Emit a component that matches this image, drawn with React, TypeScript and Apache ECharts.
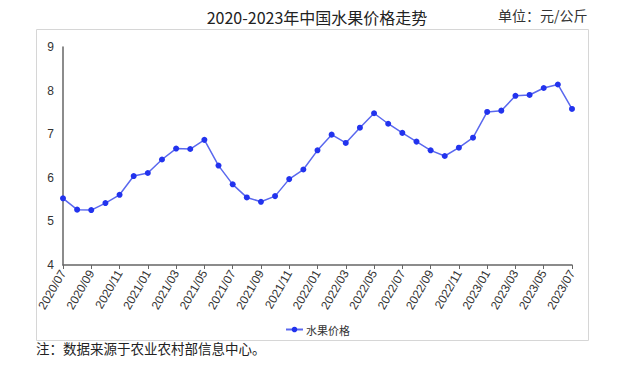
import React, { useEffect, useRef } from "react";
import * as echarts from "echarts";

const months: string[] = [
  "2020/07","2020/08","2020/09","2020/10","2020/11","2020/12",
  "2021/01","2021/02","2021/03","2021/04","2021/05","2021/06",
  "2021/07","2021/08","2021/09","2021/10","2021/11","2021/12",
  "2022/01","2022/02","2022/03","2022/04","2022/05","2022/06",
  "2022/07","2022/08","2022/09","2022/10","2022/11","2022/12",
  "2023/01","2023/02","2023/03","2023/04","2023/05","2023/06","2023/07",
];
const fruitPrice: number[] = [
  5.53, 5.27, 5.26, 5.42, 5.61, 6.04,
  6.11, 6.42, 6.67, 6.66, 6.87, 6.28,
  5.85, 5.55, 5.45, 5.58, 5.97, 6.19,
  6.63, 6.99, 6.80, 7.15, 7.48, 7.24,
  7.03, 6.83, 6.63, 6.50, 6.69, 6.92,
  7.51, 7.54, 7.88, 7.90, 8.06, 8.14, 7.58,
];
const seriesName = "水果价格";
const titleText = "2020-2023年中国水果价格走势";
const unitText = "单位：元/公斤";
const noteText = "注：数据来源于农业农村部信息中心。";

export default function App() {
  const ref = useRef<HTMLDivElement>(null);
  useEffect(() => {
    if (!ref.current) return;
    const chart = echarts.init(ref.current, null, { renderer: "svg" });
    const cjk = "'Noto Sans CJK SC', sans-serif";
    chart.setOption({
      animation: false,
      backgroundColor: "#ffffff",
      title: {
        text: titleText,
        left: 312,
        textAlign: "center",
        top: 4,
        textStyle: { fontFamily: cjk, fontSize: 16, fontWeight: "normal", color: "#222" },
      },
      graphic: [
        {
          type: "rect",
          shape: { x: 36.5, y: 29.5, width: 552, height: 311 },
          style: { fill: "none", stroke: "#d6d6d6", lineWidth: 1 },
          silent: true,
        },
        {
          type: "text",
          left: 498,
          top: 8,
          style: { text: unitText, font: `14px ${cjk}`, fill: "#333" },
        },
        {
          type: "text",
          left: 36,
          top: 341,
          style: { text: noteText, font: `13.5px ${cjk}`, fill: "#222" },
        },
      ],
      legend: {
        data: [seriesName],
        left: 280,
        top: 319,
        itemWidth: 17,
        itemHeight: 7,
        itemGap: 4,
        textStyle: { fontFamily: cjk, fontSize: 11, color: "#333", padding: [0, 0, 0, -2] },
      },
      grid: { left: 63, right: 56, top: 47, bottom: 104, containLabel: false },
      xAxis: {
        type: "category",
        data: months,
        boundaryGap: false,
        axisLine: { lineStyle: { color: "#666", width: 1.5 } },
        axisTick: { show: true, interval: 1, length: 4, lineStyle: { color: "#666" } },
        axisLabel: {
          interval: 1,
          rotate: 60,
          color: "#333",
          fontSize: 12,
          fontFamily: "Arial, 'Liberation Sans', sans-serif",
          margin: 6,
        },
        splitLine: { show: false },
      },
      yAxis: {
        type: "value",
        min: 4,
        max: 9,
        interval: 1,
        axisLine: { show: true, lineStyle: { color: "#666", width: 1.5 } },
        axisTick: { show: false },
        axisLabel: {
          color: "#333",
          fontSize: 12,
          fontFamily: "Arial, 'Liberation Sans', sans-serif",
          margin: 9,
        },
        splitLine: { show: false },
      },
      series: [
        {
          name: seriesName,
          type: "line",
          data: fruitPrice,
          symbol: "circle",
          symbolSize: 6,
          lineStyle: { color: "#5a68ee", width: 1.5 },
          itemStyle: { color: "#2233ee" },
        },
      ],
    });
    return () => chart.dispose();
  }, []);
  return (
    <div
      ref={ref}
      style={{ position: "fixed", left: 0, top: 0, width: 628, height: 369 }}
    />
  );
}
